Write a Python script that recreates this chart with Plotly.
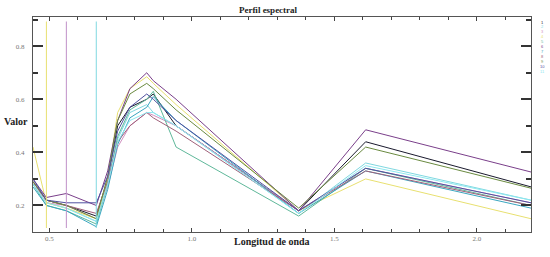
import plotly.graph_objects as go

# Sentinel-2 like band centres (micrometres)
wavelengths = [0.443, 0.490, 0.560, 0.665, 0.705, 0.740, 0.783, 0.842, 0.865, 0.945, 1.375, 1.610, 2.190]

series_names = ["1", "2", "3", "4", "5", "6", "7", "8", "9", "10", "11"]
series_colors = ["#1a1a2e", "#7fd8e0", "#d08fc0", "#e8e070", "#5fb89a", "#7a3f8a",
                 "#3aa6c0", "#a0607a", "#6a8a40", "#5050a0", "#8ee8f0"]

s1 = [0.29, 0.22, 0.20, 0.16, 0.30, 0.50, 0.57, 0.60, 0.62, 0.50, 0.18, 0.44, 0.27]
s2 = [0.28, 0.21, 0.19, 0.14, 0.29, 0.45, 0.55, 0.58, 0.55, 0.50, 0.17, 0.36, 0.22]
s3 = [0.29, 0.21, 0.20, 0.15, 0.27, 0.42, 0.50, 0.55, 0.54, 0.50, 0.18, 0.34, 0.21]
s4 = [0.42, 0.21, 0.19, 0.15, 0.30, 0.55, 0.64, 0.685, 0.66, 0.58, 0.18, 0.30, 0.15]
s5 = [0.28, 0.20, 0.18, 0.13, 0.28, 0.46, 0.56, 0.60, 0.63, 0.42, 0.16, 0.34, 0.20]
s6 = [0.30, 0.23, 0.245, 0.20, 0.33, 0.52, 0.64, 0.70, 0.67, 0.60, 0.18, 0.485, 0.326]
s7 = [0.27, 0.20, 0.18, 0.12, 0.26, 0.43, 0.53, 0.57, 0.61, 0.52, 0.17, 0.33, 0.19]
s8 = [0.29, 0.22, 0.20, 0.17, 0.29, 0.44, 0.50, 0.55, 0.53, 0.48, 0.18, 0.33, 0.20]
s9 = [0.29, 0.22, 0.20, 0.15, 0.31, 0.52, 0.62, 0.66, 0.64, 0.56, 0.19, 0.42, 0.265]
s10 = [0.30, 0.22, 0.21, 0.21, 0.31, 0.48, 0.57, 0.62, 0.60, 0.52, 0.18, 0.34, 0.21]
s11 = [0.28, 0.21, 0.19, 0.14, 0.28, 0.44, 0.52, 0.55, 0.55, 0.50, 0.17, 0.35, 0.22]
all_series = [s1, s2, s3, s4, s5, s6, s7, s8, s9, s10, s11]

# RGB band markers
marker_bands = [0.490, 0.560, 0.665]
marker_colors = ["#e8e070", "#c090c8", "#80d8e0"]
marker_range = [0.115, 0.893]

x_ticks = [0.5, 1.0, 1.5, 2.0]
y_ticks = [0.2, 0.4, 0.6, 0.8]

L, R, T, B = 33, 19, 17, 25
PW, PH = 550 - L - R, 257 - T - B

fig = go.Figure()
for name, vals, col in zip(series_names, all_series, series_colors):
    fig.add_trace(go.Scatter(x=wavelengths, y=vals, mode="lines", name=name,
                             line=dict(color=col, width=1), showlegend=False))

for xb, col in zip(marker_bands, marker_colors):
    fig.add_shape(type="line", xref="x", yref="y", x0=xb, x1=xb,
                  y0=marker_range[0], y1=marker_range[1],
                  line=dict(color=col, width=1))

annots = []
# tiny legend as coloured numbers
for i, (name, col) in enumerate(zip(series_names, series_colors)):
    annots.append(dict(xref="paper", yref="paper", x=(542 - L) / PW,
                       y=(257 - B - (22 + i * 4.9)) / PH,
                       text=name, showarrow=False, font=dict(size=4, color=col, family="Liberation Sans"),
                       xanchor="center", yanchor="middle", borderpad=0))

serif = "Liberation Serif"
annots += [
    dict(xref="paper", yref="paper", x=(272 - L) / PW, y=(257 - B - 241) / PH, text="<b>Longitud de onda</b>",
         showarrow=False, xanchor="center", yanchor="middle", borderpad=0,
         font=dict(family=serif, size=10, color="#222")),
    dict(xref="paper", yref="paper", x=(16 - L) / PW, y=(257 - B - 121) / PH, text="<b>Valor</b>",
         showarrow=False, xanchor="center", yanchor="middle", borderpad=0,
         font=dict(family=serif, size=10, color="#222")),
]

fig.update_layout(
    width=550, height=257,
    margin=dict(l=L, r=R, t=T, b=B),
    paper_bgcolor="white", plot_bgcolor="white",
    title=dict(text="<b>Perfil espectral</b>", x=268 / 550, xanchor="center", y=1 - 10 / 257, yanchor="middle",
               font=dict(family=serif, size=9, color="#222")),
    xaxis=dict(range=[0.443, 2.19], tickvals=x_ticks, ticktext=[f"{v:.1f}" for v in x_ticks],
               ticks="inside", ticklen=4, tickcolor="#444", mirror="ticks", showline=True,
               linecolor="#555", linewidth=1, showgrid=False, zeroline=False,
               tickfont=dict(family=serif, size=7, color="#777"),
               minor=dict(dtick=0.1, tick0=0.0, ticks="inside", ticklen=3, tickcolor="#444")),
    yaxis=dict(range=[0.1, 0.91], tickvals=y_ticks, ticktext=[f"{v:.1f}" for v in y_ticks],
               ticks="inside", ticklen=10, tickwidth=1.5, tickcolor="#333", mirror="ticks", showline=True,
               linecolor="#555", linewidth=1, showgrid=False, zeroline=False,
               ticklabelstandoff=6,
               tickfont=dict(family=serif, size=7, color="#777"),
               minor=dict(dtick=0.1, tick0=0.1, ticks="inside", ticklen=5, tickcolor="#333")),
    annotations=annots,
)

fig.write_html("out.html", config={"displayModeBar": False},
               post_script="document.body.style.margin='0';document.body.style.padding='0';")
